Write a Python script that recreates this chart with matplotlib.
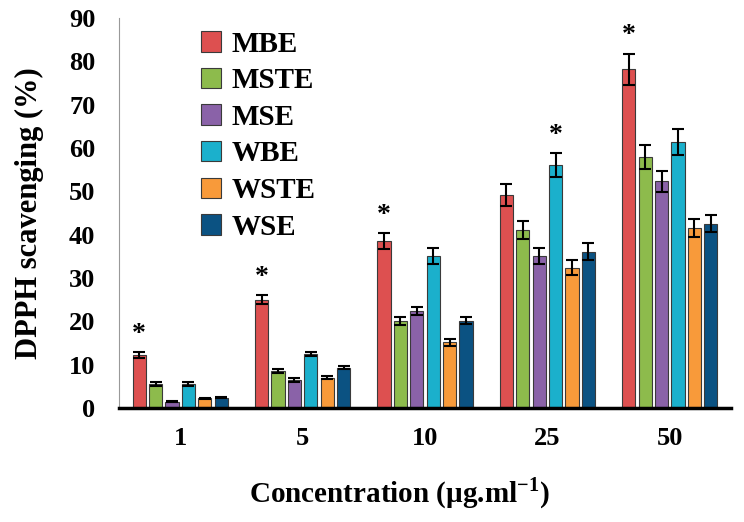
import matplotlib
matplotlib.use("Agg")
import matplotlib.pyplot as plt
import numpy as np

categories = ["1", "5", "10", "25", "50"]
series = ["MBE", "MSTE", "MSE", "WBE", "WSTE", "WSE"]
MBE = [12.2, 25.0, 38.6, 49.2, 78.2]
MSTE = [5.5, 8.5, 20.1, 41.1, 58.0]
MSE = [1.5, 6.5, 22.4, 35.1, 52.3]
WBE = [5.5, 12.5, 35.1, 56.0, 61.3]
WSTE = [2.2, 7.0, 15.2, 32.4, 41.5]
WSE = [2.4, 9.3, 20.1, 36.1, 42.5]
MBE_err = [0.7, 1.0, 1.8, 2.5, 3.6]
MSTE_err = [0.4, 0.5, 1.0, 2.0, 2.8]
MSE_err = [0.2, 0.4, 1.0, 1.8, 2.5]
WBE_err = [0.4, 0.5, 1.8, 2.8, 3.0]
WSTE_err = [0.2, 0.3, 0.8, 1.7, 2.0]
WSE_err = [0.2, 0.4, 0.8, 1.9, 2.0]
colors = ["#DD5050", "#8DBB4C", "#8A62A8", "#1BB0CC", "#F89A3A", "#0B5282"]
# significance marks: (category index, series index)
stars = [(0, 0), (1, 0), (2, 0), (3, 3), (4, 0)]

values = [MBE, MSTE, MSE, WBE, WSTE, WSE]
errors = [MBE_err, MSTE_err, MSE_err, WBE_err, WSTE_err, WSE_err]

plt.rcParams['font.family'] = ['Liberation Serif', 'DejaVu Serif']
plt.rcParams['font.weight'] = 'bold'
plt.rcParams['mathtext.fontset'] = 'custom'
plt.rcParams['mathtext.rm'] = 'Liberation Serif'
plt.rcParams['mathtext.bf'] = 'Liberation Serif:bold'

fig = plt.figure(figsize=(7.44, 5.22), dpi=100)
ax = fig.add_axes([119/744, 1-408/522, (731-119)/744, (408-18)/522])

x = np.arange(len(categories))
pitch = 0.134
width = 0.107
for i, (name, v, e, c) in enumerate(zip(series, values, errors, colors)):
    pos = x + (i - 2.5) * pitch
    ax.bar(pos, v, width, color=c, edgecolor="#3a3a3a", linewidth=0.8, label=name, zorder=2)
    ax.errorbar(pos, v, yerr=e, fmt="none", ecolor="black", elinewidth=1.5, capsize=4, capthick=1.5, zorder=3)

for ci, si in stars:
    pos = x[ci] + (si - 2.5) * pitch
    top = values[si][ci] + errors[si][ci]
    ax.text(pos, top + 1.2, "*", ha="center", va="bottom", fontsize=20, fontweight="bold")

ax.set_xlim(-0.5, 4.5)
ax.set_ylim(0, 90)
ax.set_yticks(np.arange(0, 91, 10))
ax.set_xticks(x)
ax.set_xticklabels(categories)
ax.tick_params(axis="both", length=0, labelsize=19)
ax.tick_params(axis="y", pad=17)
ax.tick_params(axis="x", pad=14)
for lab in ax.get_xticklabels() + ax.get_yticklabels():
    lab.set_fontweight("bold")
ax.spines["top"].set_visible(False)
ax.spines["right"].set_visible(False)
ax.spines["left"].set_color("#999999")
ax.spines["left"].set_linewidth(0.8)
ax.spines["bottom"].set_color("black")
ax.spines["bottom"].set_linewidth(2.5)

ax.set_ylabel("DPPH scavenging (%)", fontsize=22, fontweight="bold", labelpad=18)
ax.set_xlabel("Concentration (µg.ml$^{\\mathbf{-1}}$)", fontsize=21, fontweight="bold", labelpad=16)
ax.xaxis.set_label_coords((399 - 119) / 612, -0.172)

ax.legend(loc="upper left", bbox_to_anchor=(0.1, 1.02), frameon=False,
          handlelength=0.7, handleheight=0.7, handletextpad=0.35, labelspacing=0.33,
          borderpad=0.2, prop={"weight": "bold", "size": 21})

fig.savefig("out.png", dpi=100)
